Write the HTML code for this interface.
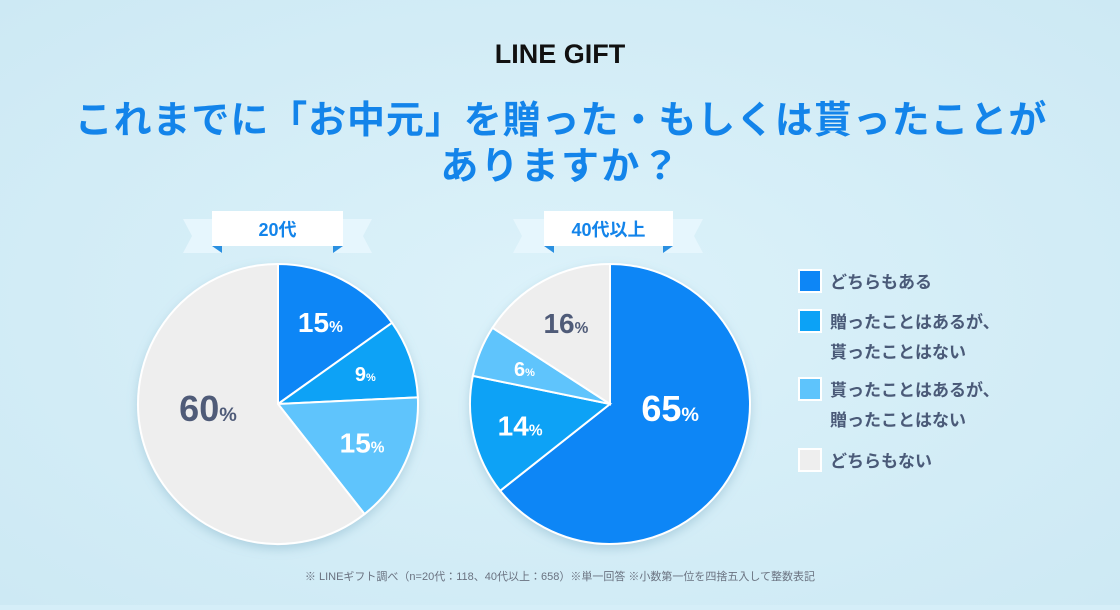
<!DOCTYPE html>
<html><head><meta charset="utf-8">
<style>
html,body{margin:0;padding:0;}
body{width:1120px;height:605px;overflow:hidden;background:#d5eef8;font-family:"Liberation Sans","Noto Sans CJK JP",sans-serif;}
svg text{font-family:"Liberation Sans","Noto Sans CJK JP",sans-serif;}
</style></head>
<body>
<svg id="chart" width="1120" height="605" viewBox="0 0 1120 605">
<defs>
<radialGradient id="bg" cx="50%" cy="50%" r="70%"><stop offset="0" stop-color="#dcf2fa"/><stop offset="1" stop-color="#cde9f4"/></radialGradient>
<filter id="sh" x="-20%" y="-20%" width="140%" height="140%"><feDropShadow dx="0" dy="4" stdDeviation="5" flood-color="#6a9fb8" flood-opacity="0.35"/></filter>
</defs>
<rect width="1120" height="605" fill="url(#bg)"/>
<text x="560" y="63" text-anchor="middle" font-size="27" font-weight="bold" fill="#111">LINE GIFT</text>
<text x="561" y="133" text-anchor="middle" font-size="38" letter-spacing="0.9" font-weight="bold" fill="#1384ea">これまでに「お中元」を贈った・もしくは貰ったことが</text>
<text x="561" y="179" text-anchor="middle" font-size="38" letter-spacing="2.2" font-weight="bold" fill="#1384ea">ありますか？</text>

<g>
<polygon points="183,219 222,219 222,253 183,253 192,236" fill="#e6f6fd"/>
<polygon points="333,219 372,219 363,236 372,253 333,253" fill="#e6f6fd"/>
<polygon points="212,246 222,246 222,253" fill="#2a8fe0"/>
<polygon points="333,246 343,246 333,253" fill="#2a8fe0"/>
<rect x="212" y="211" width="131" height="35" fill="#fff"/>
<text x="277.5" y="236" text-anchor="middle" font-size="18" font-weight="bold" fill="#1384ea">20代</text>
</g>
<g>
<polygon points="513,219 554,219 554,253 513,253 522,236" fill="#e6f6fd"/>
<polygon points="663,219 703,219 694,236 703,253 663,253" fill="#e6f6fd"/>
<polygon points="544,246 554,246 554,253" fill="#2a8fe0"/>
<polygon points="663,246 673,246 663,253" fill="#2a8fe0"/>
<rect x="544" y="211" width="129" height="35" fill="#fff"/>
<text x="608.5" y="236" text-anchor="middle" font-size="18" font-weight="bold" fill="#1384ea">40代以上</text>
</g>
<g id="pies"></g>

<g font-size="17" font-weight="bold" fill="#4a5a78">
<rect x="799" y="270" width="22" height="22" fill="#0d86f6" stroke="#fff" stroke-width="2"/>
<text x="830" y="288">どちらもある</text>
<rect x="799" y="310" width="22" height="22" fill="#0ca2f6" stroke="#fff" stroke-width="2"/>
<text x="830" y="328">贈ったことはあるが、</text>
<text x="830" y="358">貰ったことはない</text>
<rect x="799" y="378" width="22" height="22" fill="#5ec4fc" stroke="#fff" stroke-width="2"/>
<text x="830" y="396">貰ったことはあるが、</text>
<text x="830" y="426">贈ったことはない</text>
<rect x="799" y="449" width="22" height="22" fill="#eeeeee" stroke="#fff" stroke-width="2"/>
<text x="830" y="467">どちらもない</text>
</g>
<text x="560" y="580" text-anchor="middle" font-size="11" fill="#6a7280">※ LINEギフト調べ（n=20代：118、40代以上：658）※単一回答 ※小数第一位を四捨五入して整数表記</text>
</svg>
<script>
const categories = ["どちらもある","贈ったことはあるが、貰ったことはない","貰ったことはあるが、贈ったことはない","どちらもない"];
const values20s = [15, 9, 15, 60];
const values40s = [65, 14, 6, 16];
const colors = ["#0d86f6","#0ca2f6","#5ec4fc","#eeeeee"];
const NS = "http://www.w3.org/2000/svg";
function drawPie(vals, cx, cy, r, name){
  const g = document.createElementNS(NS,"g");
  
  
  g.setAttribute('filter','url(#sh)');
  const lg = document.createElementNS(NS,"g");
  const total = vals.reduce((a,b)=>a+b,0);
  let acc = 0;
  vals.forEach((v,i)=>{
    const a0 = acc/total*2*Math.PI; acc += v;
    const a1 = acc/total*2*Math.PI;
    const x0 = cx+r*Math.sin(a0), y0 = cy-r*Math.cos(a0);
    const x1 = cx+r*Math.sin(a1), y1 = cy-r*Math.cos(a1);
    const p = document.createElementNS(NS,"path");
    p.setAttribute("d",`M${cx},${cy} L${x0},${y0} A${r},${r} 0 ${(a1-a0)>Math.PI?1:0} 1 ${x1},${y1} Z`);
    p.setAttribute("fill",colors[i]);
    p.setAttribute("stroke","#fff");
    p.setAttribute("stroke-width","2");
    
    
    g.appendChild(p);
    const am = (a0+a1)/2;
    let lx, ly;
    if (v/total >= 0.5) {
      lx = cx + (Math.sin(am) >= 0 ? 0.43 : -0.5)*r;
      ly = cy + 4;
    } else {
      lx = cx+r*0.66*Math.sin(am); ly = cy-r*0.66*Math.cos(am);
    }
    const big = v/total>=0.5 ? 36 : (v>=10 ? 28 : 20);
    const t = document.createElementNS(NS,"text");
    t.setAttribute("x",lx); t.setAttribute("y",ly+big*0.36);
    t.setAttribute("text-anchor","middle");
    t.setAttribute("font-weight","bold");
    t.setAttribute("fill", i===3 ? "#4f5b78" : "#fff");
    t.setAttribute("font-size",big);
    
    
    t.textContent = v;
    const s = document.createElementNS(NS,"tspan");
    s.setAttribute("font-size",big*0.55);
    s.textContent = "%";
    t.appendChild(s);
    lg.appendChild(t);
  });
  const pies = document.getElementById("pies");
  pies.appendChild(g); pies.appendChild(lg);
}
drawPie(values20s, 278, 404, 140, "pie-20s");
drawPie(values40s, 610, 404, 140, "pie-40s");
</script>
</body></html>
